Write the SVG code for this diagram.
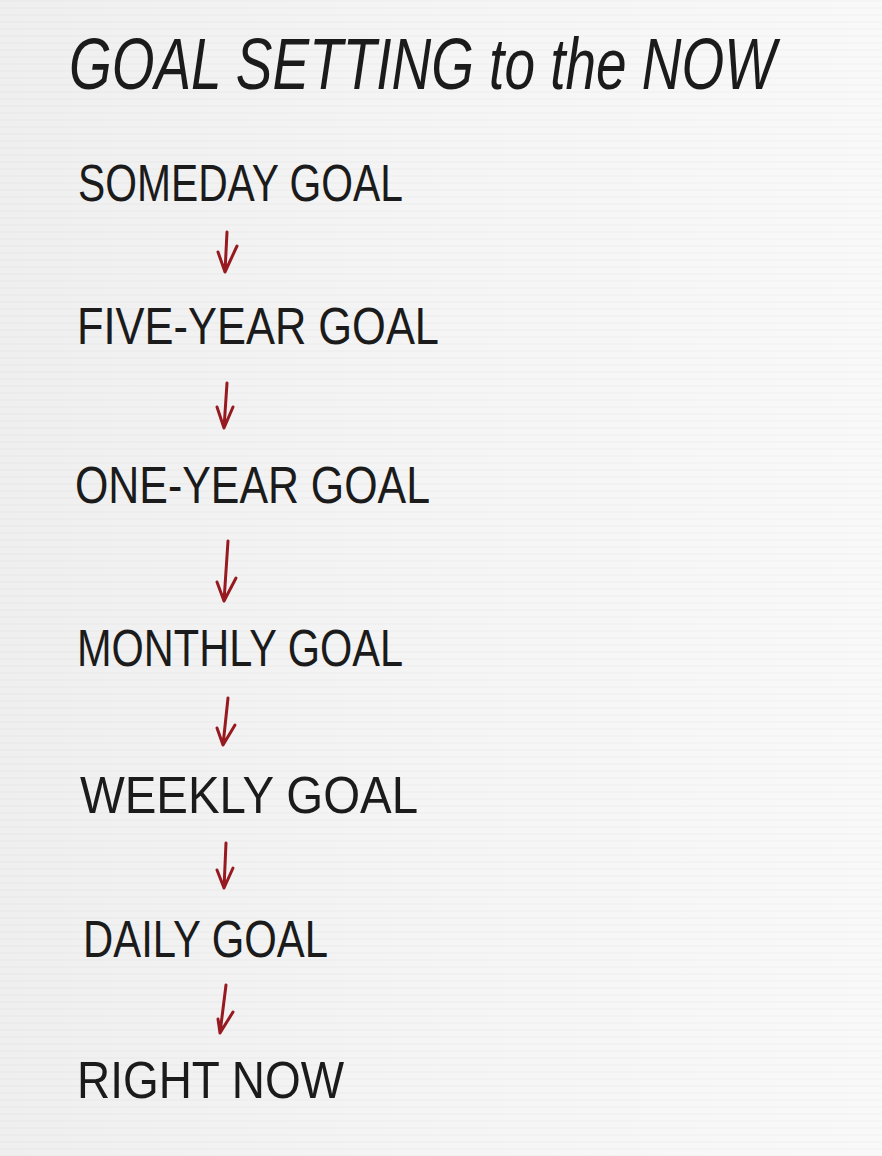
<svg xmlns="http://www.w3.org/2000/svg" width="882" height="1156" viewBox="0 0 882 1156">
  <defs>
    <linearGradient id="bg" x1="0" y1="0" x2="1" y2="0">
      <stop offset="0" stop-color="#efefef"/>
      <stop offset="0.5" stop-color="#f5f5f5"/>
      <stop offset="1" stop-color="#f9f9f9"/>
    </linearGradient>
    <pattern id="stripes" width="882" height="7" patternUnits="userSpaceOnUse">
      <rect x="0" y="0" width="882" height="2" fill="#000000" opacity="0.015"/>
    </pattern>
  </defs>
  <style>
    .lbl { font-family: "Liberation Sans", "DejaVu Sans", sans-serif; font-size: 51px; fill: #1b1b1b; }
    .title { font-family: "Liberation Sans", "DejaVu Sans", sans-serif; font-size: 62px; font-style: italic; fill: #1b1b1b; }
    .arrow { fill: none; stroke: #961a20; stroke-width: 3; stroke-linecap: round; stroke-linejoin: round; }
  </style>
  <rect x="0" y="0" width="882" height="1156" fill="url(#bg)"/>
  <rect x="0" y="0" width="882" height="1156" fill="url(#stripes)"/>

  <g id="title">
    <text class="title" transform="translate(69,89) scale(1,1.16)" x="0" y="0" textLength="707" lengthAdjust="spacingAndGlyphs">GOAL SETTING to the NOW</text>
  </g>

  <g id="connectors">
    <path class="arrow" d="M227,232 L225,272 M218,252 L225,272 L237,246"/>
    <path class="arrow" d="M227,383 L224,428 M217,407 L224,428 L233,407"/>
    <path class="arrow" d="M228,541 L224,601 M217,582 L224,601 L236,578"/>
    <path class="arrow" d="M228,698 L223,745 M217,728 L223,745 L235,725"/>
    <path class="arrow" d="M226,843 L224,888 M217,870 L224,888 L233,868"/>
    <path class="arrow" d="M226,985 L220,1033 M218,1019 L220,1033 L233,1012"/>
  </g>

  <g id="someday">
    <text class="lbl" x="78" y="201" textLength="325" lengthAdjust="spacingAndGlyphs">SOMEDAY GOAL</text>
  </g>
  <g id="five-year">
    <text class="lbl" x="77" y="344" textLength="362" lengthAdjust="spacingAndGlyphs">FIVE-YEAR GOAL</text>
  </g>
  <g id="one-year">
    <text class="lbl" x="75" y="503" textLength="355" lengthAdjust="spacingAndGlyphs">ONE-YEAR GOAL</text>
  </g>
  <g id="monthly">
    <text class="lbl" x="77" y="666" textLength="326" lengthAdjust="spacingAndGlyphs">MONTHLY GOAL</text>
  </g>
  <g id="weekly">
    <text class="lbl" x="80" y="813" textLength="338" lengthAdjust="spacingAndGlyphs">WEEKLY GOAL</text>
  </g>
  <g id="daily">
    <text class="lbl" x="83" y="957" textLength="245" lengthAdjust="spacingAndGlyphs">DAILY GOAL</text>
  </g>
  <g id="right-now">
    <text class="lbl" x="77" y="1098" textLength="267" lengthAdjust="spacingAndGlyphs">RIGHT NOW</text>
  </g>
</svg>
